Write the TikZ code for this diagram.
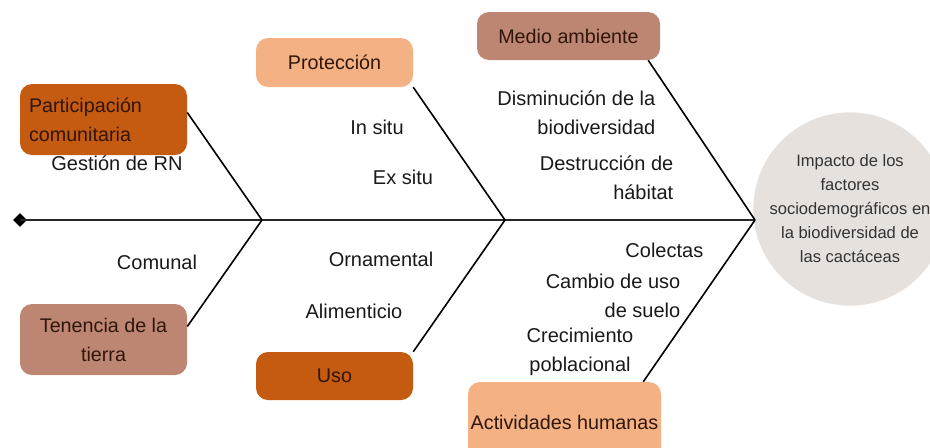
\documentclass[tikz,border=0pt]{standalone}
\usepackage{fontspec}
\setmainfont{Liberation Sans}
\usepackage{tikz}
\definecolor{darkorange}{RGB}{197, 90, 17}
\definecolor{lightorange}{RGB}{244, 177, 131}
\definecolor{rosebrown}{RGB}{188, 134, 114}
\definecolor{circlegray}{RGB}{231, 225, 221}
\definecolor{boxtext}{RGB}{48, 22, 10}
\usetikzlibrary{shapes.geometric,positioning,calc}

\begin{document}
\begin{tikzpicture}[
    x=0.75pt, y=-0.75pt,
    cause/.style={
        rectangle,
        rounded corners=9pt,
        align=center,
        text=boxtext,
        font=\fontsize{14.8}{21.8}\selectfont
    },
    subcause/.style={align=center, text=black!90, font=\fontsize{15}{21.8}\selectfont},
    bone/.style={line width=1.2pt, black},
    spine/.style={line width=1.6pt, black!85}
]
    \useasboundingbox (0,0) rectangle (930,447);

    % Effect
    \node[circle, fill=circlegray, minimum size=137pt, inner sep=0pt, align=center, text=black!80, font=\fontsize{12.4}{18}\selectfont] (impacto) at (850,209) {Impacto de los\\factores\\sociodemográficos en\\la biodiversidad de\\las cactáceas};

    % Causes
    \node[cause, fill=darkorange, minimum width=125.25pt, minimum height=53.25pt, text width=111.75pt, inner xsep=6.75pt, align=left] (partic) at (103.5,119.5) {Participación\\ comunitaria};
    \node[cause, fill=rosebrown, minimum width=125.25pt, minimum height=53.25pt] (tenencia) at (103.5,339.5) {Tenencia de la\\tierra};
    \node[cause, fill=lightorange, minimum width=117.75pt, minimum height=36.75pt] (proteccion) at (334.5,62.5) {Protección};
    \node[cause, fill=darkorange, minimum width=117.75pt, minimum height=36pt] (uso) at (334.5,376) {Uso};
    \node[cause, fill=rosebrown, minimum width=137.25pt, minimum height=36pt] (medio) at (568.5,36) {Medio ambiente};
    \node[cause, fill=lightorange, minimum width=144.75pt, minimum height=60pt, inner xsep=0pt] (activ) at (564.5,422) {Actividades humanas};

    % Spine
    \node[diamond, fill=black, minimum size=10.5pt, inner sep=0pt] (tail) at (20,220) {};
    \coordinate (j1) at (262,220);
    \coordinate (j2) at (505,220);
    \coordinate (j3) at (755,220);
    \draw[spine] (tail.center) -- (j3);

    % Bones
    \draw[bone] ($(partic.east)+(0,-7)$) -- (j1);
    \draw[bone] ($(tenencia.east)+(0,-13)$) -- (j1);
    \draw[bone] (proteccion.south east) -- (j2);
    \draw[bone] (uso.north east) -- (j2);
    \draw[bone] ($(medio.south east)+(-12,0)$) -- (j3);
    \draw[bone] ($(activ.north east)+(-18,0)$) -- (j3);

    % Sub-causes
    \node[subcause] (gestion) at (117,163) {Gestión de RN};
    \node[subcause] (comunal) at (157,262) {Comunal};
    \node[subcause] (insitu) at (377,127) {In situ};
    \node[subcause] (exsitu) at (403,177) {Ex situ};
    \node[subcause] (ornamental) at (381,259) {Ornamental};
    \node[subcause] (alimenticio) at (354,311) {Alimenticio};
    \node[subcause, align=right, anchor=east] (disminucion) at (660,112.5) {Disminución de la\\biodiversidad};
    \node[subcause, align=right, anchor=east] (destruccion) at (678,177.5) {Destrucción de\\hábitat};
    \node[subcause, anchor=east] (colectas) at (708,250) {Colectas};
    \node[subcause, align=right, anchor=east] (cambio) at (685,296) {Cambio de uso\\de suelo};
    \node[subcause] (crecimiento) at (580,351.5) {Crecimiento\\poblacional};
\end{tikzpicture}
\end{document}
